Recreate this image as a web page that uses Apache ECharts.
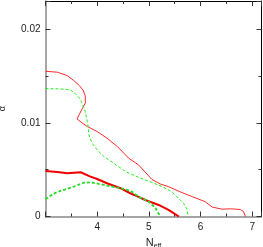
<!DOCTYPE html>
<html><head><meta charset="utf-8">
<script src="https://cdn.jsdelivr.net/npm/echarts@6/dist/echarts.min.js"></script>
<style>html,body{margin:0;padding:0;background:#fff}#c{width:263px;height:247px}</style>
</head><body><div id="c"></div>
<script>
// Outer contour (thin red, solid)
var redOuterN = [3.0,3.23,3.42,3.55,3.66,3.73,3.77,3.77,3.70,3.61,3.71,3.81,4.0,4.19,4.39,4.61,4.80,5.06,5.23,5.38,5.61,5.84,6.09,6.23,6.42,6.58,6.77,6.83,6.87];
var redOuterA = [0.0155,0.0154,0.01504,0.01450,0.01395,0.01345,0.01285,0.01211,0.01140,0.01041,0.00998,0.0096,0.00907,0.00836,0.00747,0.00622,0.00551,0.00395,0.00345,0.00319,0.00262,0.00212,0.00158,0.00100,0.00078,0.00082,0.00075,0.00053,0.0];
// Outer contour (green, dashed)
var greenOuterN = [3.0,3.26,3.48,3.58,3.68,3.77,3.82,3.84,3.90,4.0,4.13,4.32,4.55,4.75,4.93,5.1,5.26,5.42,5.51,5.67,5.74,5.76];
var greenOuterA = [0.01365,0.01362,0.01353,0.01310,0.01246,0.01121,0.00979,0.00872,0.00783,0.00711,0.0064,0.00569,0.00479,0.00430,0.0039,0.00355,0.00319,0.00270,0.0023,0.00141,0.00078,0.0];
// Inner contour (thick red, solid)
var redInnerN = [3.0,3.23,3.42,3.68,3.87,4.0,4.19,4.45,4.64,4.80,4.93,5.19,5.38,5.50,5.58];
var redInnerA = [0.00485,0.00475,0.00462,0.00472,0.00426,0.00400,0.00355,0.00302,0.00248,0.00210,0.00176,0.00123,0.0007,0.00028,0.0];
// Inner contour (green, dashed)
var greenInnerN = [3.0,3.16,3.29,3.55,3.74,3.87,3.93,4.19,4.45,4.64,4.80,5.0,5.13,5.22];
var greenInnerA = [0.00185,0.00245,0.00273,0.00319,0.00360,0.00365,0.00360,0.0033,0.00302,0.00276,0.00212,0.00158,0.00088,0.0];

var xTicks = [4,5,6,7];
var yTicks = ['0','0.01','0.02'];

function pairs(xs, ys){ return xs.map(function(x,i){ return [x, ys[i]]; }); }

var chart = echarts.init(document.getElementById('c'), null, {renderer:'canvas'});
var font = 'Liberation Sans, Arial, sans-serif';
var baseX = {
  type:'value', min:3, max:7.18, interval:1,
  axisTick:{show:true, inside:true, length:5, lineStyle:{color:'#333'}},
  minorTick:{show:true, splitNumber:2, length:3, lineStyle:{color:'#333'}},
  splitLine:{show:false}
};
var baseY = {
  type:'value', min:0, max:0.023, interval:0.01,
  axisTick:{show:true, inside:true, length:5, lineStyle:{color:'#333'}},
  minorTick:{show:true, splitNumber:2, length:3, lineStyle:{color:'#333'}},
  splitLine:{show:false}
};
chart.setOption({
  animation:false,
  grid:{left:45.5, right:1.5, top:1, bottom:30.5, containLabel:false, outerBoundsMode:'none'},
  xAxis:[
    Object.assign({}, baseX, {
      position:'bottom',
      axisLine:{show:true, onZero:false, lineStyle:{color:'#888', width:1.5}},
      axisLabel:{show:true, fontFamily:font, fontSize:10, color:'#222', margin:6, showMinLabel:false, showMaxLabel:false,
        formatter:function(v){ return xTicks.indexOf(v) >= 0 ? String(v) : ''; }},
      name:'{n|N}{s|eff}', nameLocation:'middle', nameGap:18,
      nameTextStyle:{rich:{n:{fontFamily:font, fontSize:11, color:'#222'}, s:{fontFamily:font, fontSize:7, color:'#222', verticalAlign:'bottom', padding:[6,0,0,0]}}}
    }),
    Object.assign({}, baseX, {
      position:'top',
      axisLine:{show:true, onZero:false, lineStyle:{color:'#000', width:1}},
      axisLabel:{show:false}
    })
  ],
  yAxis:[
    Object.assign({}, baseY, {
      position:'left',
      axisLine:{show:true, onZero:false, lineStyle:{color:'#888', width:1.5}},
      axisLabel:{show:true, fontFamily:font, fontSize:10, color:'#222', margin:5, showMaxLabel:false,
        formatter:function(v){ var i = Math.round(v/0.01); return (Math.abs(v - i*0.01) < 1e-9 && yTicks[i] !== undefined) ? yTicks[i] : ''; }},
      name:'α', nameLocation:'middle', nameGap:38, nameRotate:90,
      nameTextStyle:{fontFamily:font, fontSize:9, color:'#222'}
    }),
    Object.assign({}, baseY, {
      position:'right',
      axisLine:{show:true, onZero:false, lineStyle:{color:'#000', width:1}},
      axisLabel:{show:false}
    })
  ],
  series:[
    {type:'line', data:pairs(redOuterN, redOuterA), showSymbol:false, smooth:false,
     lineStyle:{color:'#ff2a2a', width:1}},
    {type:'line', data:pairs(greenOuterN, greenOuterA), showSymbol:false,
     lineStyle:{color:'#22ee22', width:1, type:[3,2]}},
    {type:'line', data:pairs(redInnerN, redInnerA), showSymbol:false,
     lineStyle:{color:'#ee0000', width:2}},
    {type:'line', data:pairs(greenInnerN, greenInnerA), showSymbol:false,
     lineStyle:{color:'#22dd22', width:1.8, type:[3,2]}}
  ]
});
</script></body></html>
